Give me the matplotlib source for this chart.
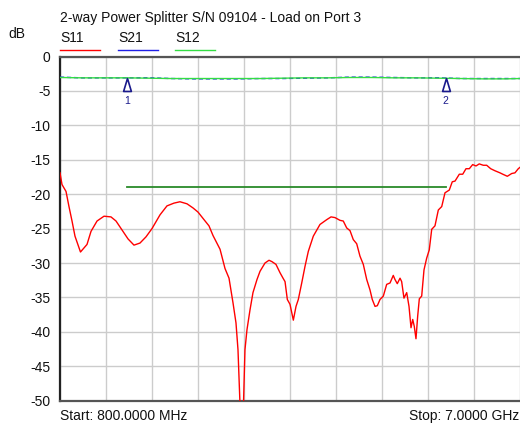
import matplotlib
matplotlib.use("Agg")
import matplotlib.pyplot as plt
from matplotlib.lines import Line2D
from matplotlib.path import Path
import numpy as np

plt.rcParams['font.family'] = ['Liberation Sans', 'DejaVu Sans']

title = "2-way Power Splitter S/N 09104 - Load on Port 3"
start_label = "Start: 800.0000 MHz"
stop_label = "Stop: 7.0000 GHz"
series_names = ["S11", "S21", "S12"]
f_start, f_stop = 0.8, 7.0
y_ticks = [0, -5, -10, -15, -20, -25, -30, -35, -40, -45, -50]

# S11 trace (GHz, dB)
s11_f = [0.800, 0.827, 0.881, 0.921, 0.962, 1.002, 1.076, 1.164, 1.218, 1.299, 1.393, 1.487,
         1.555, 1.636, 1.717, 1.797, 1.878, 1.959, 2.040, 2.148, 2.242, 2.336, 2.417, 2.512,
         2.593, 2.660, 2.741, 2.808, 2.862, 2.957, 3.024, 3.078, 3.132, 3.172, 3.199, 3.226,
         3.253, 3.273, 3.293, 3.320, 3.361, 3.401, 3.455, 3.496, 3.563, 3.617, 3.657, 3.711,
         3.765, 3.806, 3.833, 3.864, 3.900, 3.945, 3.981, 4.012, 4.058, 4.102, 4.147, 4.214,
         4.304, 4.395, 4.453, 4.506, 4.574, 4.618, 4.664, 4.709, 4.753, 4.799, 4.843, 4.888,
         4.934, 4.978, 5.009, 5.046, 5.077, 5.113, 5.158, 5.203, 5.248, 5.292, 5.315, 5.346,
         5.383, 5.405, 5.436, 5.473, 5.504, 5.531, 5.554, 5.575, 5.598, 5.621, 5.643, 5.675,
         5.706, 5.742, 5.777, 5.810, 5.854, 5.899, 5.945, 5.989, 6.047, 6.087, 6.124, 6.182,
         6.228, 6.272, 6.317, 6.362, 6.407, 6.451, 6.505, 6.551, 6.605, 6.663, 6.730, 6.768,
         6.829, 6.888, 6.932, 6.977, 7.000]
s11_db = [-16.9, -18.6, -19.6, -21.8, -23.9, -26.1, -28.4, -27.3, -25.4, -23.9, -23.2, -23.3,
          -23.9, -25.2, -26.5, -27.4, -27.1, -26.2, -25.0, -23.0, -21.7, -21.3, -21.1, -21.4,
          -22.0, -22.6, -23.7, -24.6, -26.0, -28.0, -30.8, -32.2, -35.8, -38.7, -42.6, -50.5,
          -52.0, -50.5, -42.6, -39.7, -36.8, -34.3, -32.4, -31.2, -30.0, -29.6, -29.8, -30.2,
          -31.4, -32.2, -32.7, -35.3, -36.0, -38.3, -36.3, -35.3, -32.9, -30.5, -28.3, -26.1,
          -24.4, -23.7, -23.3, -23.4, -23.8, -23.9, -24.9, -25.3, -26.6, -27.2, -29.0, -30.2,
          -32.4, -33.9, -35.3, -36.3, -36.2, -35.3, -34.8, -33.1, -32.9, -31.8, -32.4, -33.0,
          -32.2, -32.7, -35.1, -34.3, -36.3, -39.4, -38.2, -39.2, -41.0, -37.7, -35.2, -34.8,
          -31.0, -29.3, -28.1, -25.1, -24.6, -22.3, -21.8, -19.8, -19.4, -18.2, -18.1, -17.1,
          -17.1, -16.3, -16.3, -15.7, -15.9, -15.6, -15.8, -15.8, -16.3, -16.6, -16.9, -17.1,
          -17.4, -17.0, -16.9, -16.3, -16.1]

# Through traces
thru_f = [0.8, 1.1, 1.4, 1.7, 2.0, 2.3, 2.6, 2.9, 3.2, 3.5, 3.8, 4.1, 4.4, 4.7, 5.0, 5.3,
          5.6, 5.9, 6.2, 6.5, 6.8, 7.0]
s21_db = [-3.0, -3.1, -3.1, -3.1, -3.1, -3.2, -3.25, -3.25, -3.25, -3.2, -3.2, -3.15, -3.1,
          -3.0, -3.0, -3.05, -3.1, -3.1, -3.2, -3.2, -3.2, -3.2]
s12_db = [-3.05, -3.1, -3.1, -3.1, -3.15, -3.2, -3.2, -3.2, -3.2, -3.2, -3.15, -3.1, -3.1,
          -3.05, -3.05, -3.1, -3.1, -3.15, -3.2, -3.25, -3.25, -3.2]

# Limit line and markers
limit_f = [1.7, 6.0]
limit_db = [-18.9, -18.9]
marker_f = [1.7, 6.0]
marker_db = [-3.1, -3.1]
marker_labels = ["1", "2"]

colors = {"S11": "#ff0000", "S21": "#1e1ee6", "S12": "#33dd44"}

fig = plt.figure(figsize=(5.2, 4.25), dpi=100)
W, H = 520, 425
ax = fig.add_axes([60 / W, (H - 400.7) / H, 460 / W, 344.2 / H])

ax.set_xlim(f_start, f_stop)
ax.set_ylim(-50, 0)
ax.set_xticks(np.linspace(f_start, f_stop, 11))
ax.set_xticklabels([])
ax.set_yticks(y_ticks)
ax.set_yticklabels([str(v) for v in y_ticks], fontsize=10, color="#111111")
ax.tick_params(axis="both", length=0, pad=7)
ax.grid(True, color="#cccccc", linewidth=1.0)
ax.set_axisbelow(True)

ax.spines["left"].set_color("#222222")
ax.spines["left"].set_linewidth(1.6)
for side in ["bottom", "top"]:
    ax.spines[side].set_color("#555555")
    ax.spines[side].set_linewidth(1.6)
ax.spines["right"].set_visible(False)

ax.plot(s11_f, s11_db, color=colors["S11"], linewidth=1.0, zorder=3)
ax.plot(limit_f, limit_db, color="#2a8a2a", linewidth=1.3, zorder=3)
ax.plot(thru_f, s21_db, color=colors["S21"], linewidth=1.0, linestyle=(0, (3, 2)), zorder=3)
ax.plot(thru_f, s12_db, color=colors["S12"], linewidth=1.0, zorder=4)

tri = Path([(0, 0), (-0.6, -2), (0.6, -2), (0, 0)],
           [Path.MOVETO, Path.LINETO, Path.LINETO, Path.CLOSEPOLY])
ax.plot(marker_f, marker_db, linestyle="none", marker=tri, markersize=18.7,
        markerfacecolor="none", markeredgecolor="#1a1a8c", markeredgewidth=1.2, zorder=5)
for f, d, lab in zip(marker_f, marker_db, marker_labels):
    ax.annotate(lab, (f, d), xytext=(0, -16.5), textcoords="offset points",
                ha="center", va="center", fontsize=7.5, color="#1a1a8c")

# Header texts
fig.text(60 / W, 1 - 18 / H, title, fontsize=10, ha="left", va="center", color="#111111")
fig.text(8 / W, 1 - 34 / H, "dB", fontsize=10, ha="left", va="center", color="#111111")
leg_x = [60, 118, 175]
for name, x0 in zip(series_names, leg_x):
    fig.text(x0 / W, 1 - 38 / H, name, fontsize=10, ha="left", va="center", color="#111111")
    fig.add_artist(Line2D([x0 / W, (x0 + 40) / W], [1 - 50 / H, 1 - 50 / H],
                          color=colors[name], linewidth=1.0))

fig.text(60 / W, 1 - 416 / H, start_label, fontsize=10, ha="left", va="center", color="#111111")
fig.text(519 / W, 1 - 416 / H, stop_label, fontsize=10, ha="right", va="center", color="#111111")

fig.savefig("out.png", dpi=100)
